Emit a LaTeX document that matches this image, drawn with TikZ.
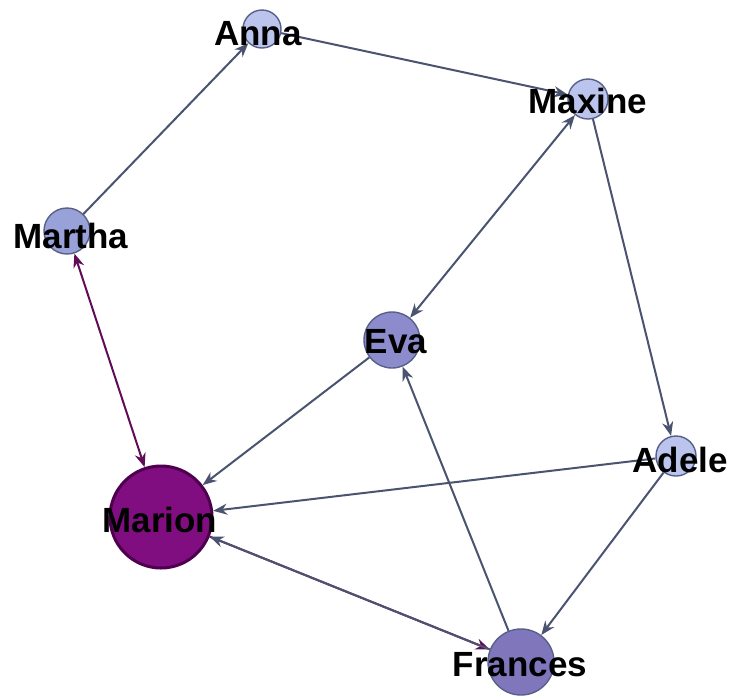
\documentclass[tikz,border=0pt]{standalone}
\usepackage{fontspec}
\setmainfont{Liberation Sans}
\usetikzlibrary{arrows.meta}
\definecolor{edgegray}{RGB}{74,84,112}
\definecolor{edgepurple}{RGB}{98,12,88}
\definecolor{lightnode}{RGB}{186,196,236}
\definecolor{midnode}{RGB}{152,162,216}
\definecolor{evanode}{RGB}{140,140,204}
\definecolor{frannode}{RGB}{128,118,188}
\definecolor{marionnode}{RGB}{128,14,128}
\definecolor{marionborder}{RGB}{78,0,78}
\definecolor{nodeborder}{RGB}{88,96,136}
\tikzset{
  vertex/.style={circle, draw=nodeborder, line width=1.4pt, inner sep=0pt},
  lbl/.style={font=\fontsize{35}{35}\selectfont\bfseries, text=black, inner sep=0pt},
  tip/.tip={Stealth[length=14pt,width=11pt]},
  edge/.style={draw=edgegray, line width=2pt, -tip},
  pedge/.style={draw=edgepurple, line width=2pt, -tip},
}
\begin{document}
\begin{tikzpicture}[x=1pt,y=-1pt]
\useasboundingbox (0,0) rectangle (730,697);
\fill[white] (0,0) rectangle (730,697);
% vertices
\node[vertex, fill=lightnode, minimum size=38pt] (anna) at (262,29) {};
\node[vertex, fill=lightnode, minimum size=40pt] (maxine) at (588,99) {};
\node[vertex, fill=midnode, minimum size=46pt] (martha) at (67,231) {};
\node[vertex, fill=evanode, minimum size=56pt] (eva) at (392,340) {};
\node[vertex, fill=lightnode, minimum size=40pt] (adele) at (676,456) {};
\node[vertex, fill=marionnode, draw=marionborder, line width=3pt, minimum size=102pt] (marion) at (161,517) {};
\node[vertex, fill=frannode, minimum size=66pt] (frances) at (521,662) {};
% edges
\draw[edge] (martha) -- (anna);
\draw[edge] (anna) -- (maxine);
\draw[edge, tip-tip] (maxine) -- (eva);
\draw[edge] (maxine) -- (adele);
\draw[pedge, tip-tip] (martha) -- (marion);
\draw[edge] (eva) -- (marion);
\draw[edge] (adele) -- (marion);
\draw[edge] (adele) -- (frances);
\draw[edge] (frances) -- (eva);
\draw[pedge] (marion) -- (frances);
\draw[edge] (frances) -- (marion);
% labels
\node[lbl] (annal) at (258,34) {Anna};
\node[lbl] (maxinel) at (588,101) {Maxine};
\node[lbl] (marthal) at (71,236) {Martha};
\node[lbl] (eval) at (396,342) {Eva};
\node[lbl] (adelel) at (680,460) {Adele};
\node[lbl] (marionl) at (160,520) {Marion};
\node[lbl] (francesl) at (520,665) {Frances};
\end{tikzpicture}
\end{document}
